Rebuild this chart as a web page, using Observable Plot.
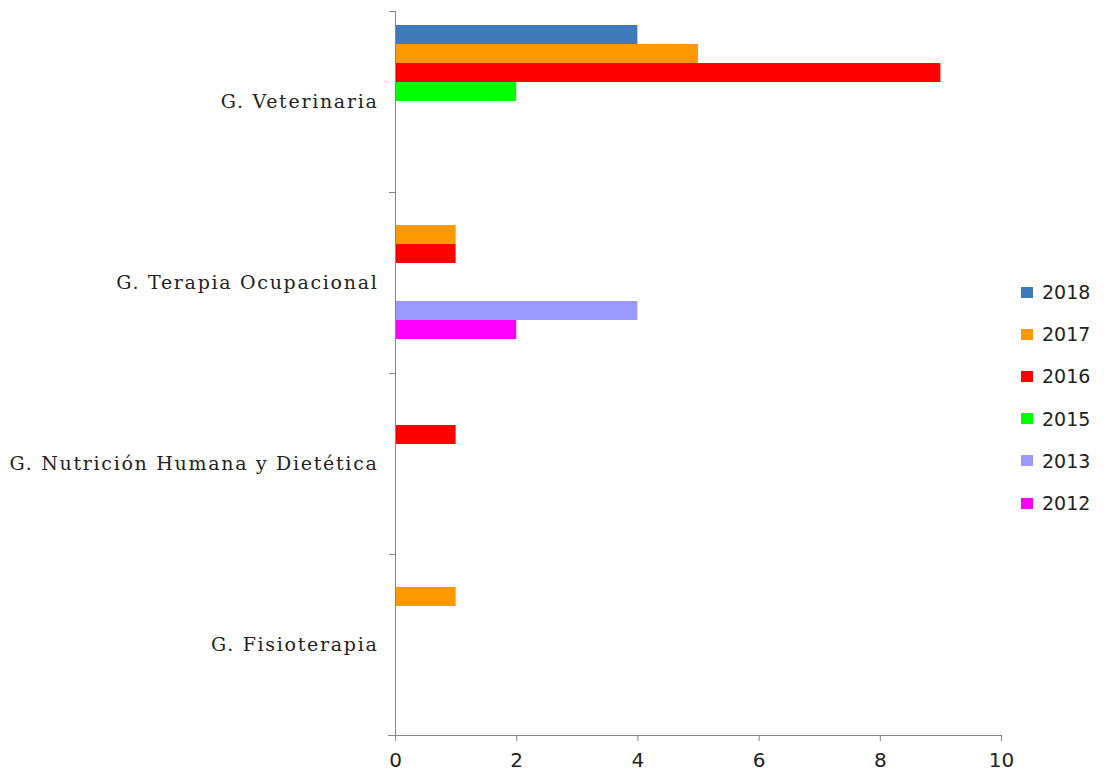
<!DOCTYPE html>
<html><head><meta charset="utf-8">
<script src="https://cdn.jsdelivr.net/npm/d3@7"></script>
<script src="https://cdn.jsdelivr.net/npm/@observablehq/plot@0.6"></script>
<style>
body{margin:0;background:#fff}
#wrap{position:relative;width:1104px;height:772px;overflow:hidden}
#wrap svg{position:absolute;left:0;top:0}
#legend{position:absolute;left:1021px;top:271px;font-family:"DejaVu Sans";font-size:19px;color:#222}
.item{display:flex;align-items:center;height:42.2px}
.sw{width:12px;height:11px;margin-right:9px}
[aria-label="fy-axis tick label"] text{letter-spacing:1.7px}
</style></head><body><div id="wrap"><div id="legend"></div></div>
<script>
const categories = ["G. Veterinaria", "G. Terapia Ocupacional", "G. Nutrición Humana y Dietética", "G. Fisioterapia"];
// bar slots per group (2014 slot has no data and no legend entry)
const years = ["2018", "2017", "2016", "2015", "2014", "2013", "2012"];
const legendYears = ["2018", "2017", "2016", "2015", "2013", "2012"];
const colors = ["#4279B9", "#FF9900", "#FF0000", "#00FF00", "#BBBBBB", "#9999FF", "#FF00FF"];
// values per category, in the order of categories
const v2018 = [4, null, null, null];
const v2017 = [5, 1, null, 1];
const v2016 = [9, 1, 1, null];
const v2015 = [2, null, null, null];
const v2014 = [null, null, null, null];
const v2013 = [null, 4, null, null];
const v2012 = [null, 2, null, null];
const xTicks = [0, 2, 4, 6, 8, 10];

const series = {"2018": v2018, "2017": v2017, "2016": v2016, "2015": v2015, "2014": v2014, "2013": v2013, "2012": v2012};
const rows = [];
for (const y of years) series[y].forEach((v, i) => { if (v != null) rows.push({category: categories[i], year: y, value: v}); });

const axisColor = "#868686";
const plot = Plot.plot({
  width: 1104, height: 772,
  marginLeft: 395, marginRight: 103, marginTop: 10, marginBottom: 37,
  x: {domain: [0, 10], label: null},
  y: {domain: years, paddingInner: 0, paddingOuter: 1.22, align: 0.284, axis: null},
  fy: {domain: categories, padding: 0, label: null},
  color: {domain: years, range: colors},
  style: {fontFamily: "DejaVu Serif", fontSize: "18px", background: "#fff", color: "#222"},
  marks: [
    Plot.barX(rows, {x: "value", y: "year", fy: "category", fill: "year"}),
    Plot.ruleX([0], {stroke: axisColor}),
    Plot.frame({anchor: "top", stroke: axisColor, insetLeft: -6, insetRight: 606}),
    Plot.frame({anchor: "bottom", stroke: axisColor, insetLeft: -6, insetRight: 606}),
    Plot.frame({anchor: "bottom", facet: "super", stroke: axisColor, insetLeft: -7}),
    Plot.axisX({anchor: "bottom", ticks: xTicks, tickSize: 6, tickPadding: 11, stroke: axisColor, fill: "#222", fontFamily: "DejaVu Sans", fontSize: 20, label: null}),
    Plot.axisFy({anchor: "left", tickSize: 0, tickPadding: 17, fontSize: 19, fill: "#222", label: null})
  ]
});
document.getElementById("wrap").prepend(plot);

const legend = document.getElementById("legend");
for (const y of legendYears) {
  const item = document.createElement("div");
  item.className = "item";
  const sw = document.createElement("span");
  sw.className = "sw";
  sw.style.background = colors[years.indexOf(y)];
  const t = document.createElement("span");
  t.textContent = y;
  item.append(sw, t);
  legend.append(item);
}
</script></body></html>
